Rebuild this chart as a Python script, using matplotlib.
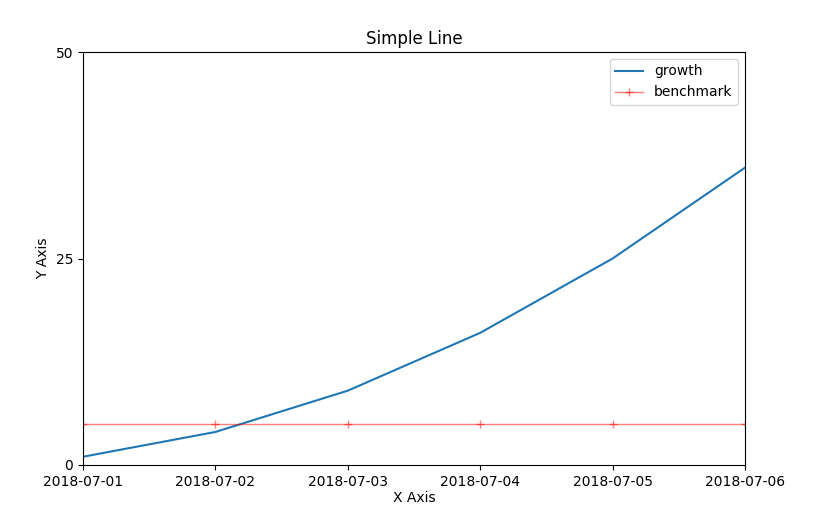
import matplotlib
matplotlib.use("Agg")
import matplotlib.pyplot as plt

dates = ["2018-07-01", "2018-07-02", "2018-07-03", "2018-07-04", "2018-07-05", "2018-07-06"]
growth = [1, 4, 9, 16, 25, 36]
benchmark = [5, 5, 5, 5, 5, 5]
yticks = [0, 25, 50]

fig = plt.figure(figsize=(8.28, 5.18), dpi=100)
ax = fig.add_axes([83/828, 1-465/518, (745-83)/828, (465-52)/518])
x = list(range(len(dates)))
ax.plot(x, growth, color="#1f77b4", lw=1.5, label="growth")
ax.plot(x, benchmark, color="red", alpha=0.5, lw=1, marker="+", label="benchmark")
ax.set_xlim(0, len(dates)-1)
ax.set_ylim(0, 50)
ax.set_xticks(x)
ax.set_xticklabels(dates)
ax.set_yticks(yticks)
ax.set_title("Simple Line")
ax.set_xlabel("X Axis", labelpad=2)
ax.set_ylabel("Y Axis")
ax.legend(loc="upper right")
fig.savefig("out.png", dpi=100)
